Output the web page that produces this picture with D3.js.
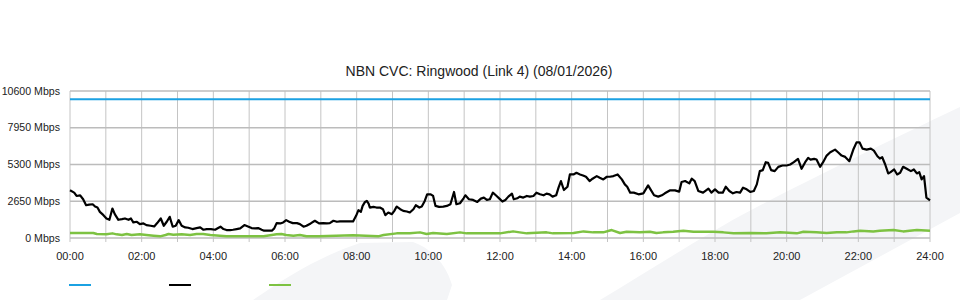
<!DOCTYPE html>
<html>
<head>
<meta charset="utf-8">
<script src="https://cdn.jsdelivr.net/npm/d3@7"></script>
<style>
  body { margin: 0; background: #fff; }
  svg { display: block; font-family: "Liberation Sans", Arial, sans-serif; }
</style>
</head>
<body>
<script>
// chart title
var chartTitle = "NBN CVC: Ringwood (Link 4) (08/01/2026)";

// y axis ticks (Mbps)
var yTicks = [0, 2650, 5300, 7950, 10600];

// link capacity (blue line), Mbps
var capacity = [[0, 10000], [1440, 10000]];

// traffic (black line): [minute of day, Mbps]
var trafficIn = [
  [0,3437],[7,3270],[11,3031],[17,3079],[22,2793],[27,2363],[32,2411],[38,2435],[42,2268],[46,2196],
  [50,1886],[56,1647],[61,1408],[66,1313],[71,2124],[75,1719],[81,1313],[87,1361],[92,1408],[98,1313],
  [102,1408],[106,1122],[112,1170],[117,1003],[123,1050],[128,931],[135,883],[141,835],[146,1074],[152,1408],
  [157,883],[162,1170],[167,1528],[172,812],[177,883],[182,1289],[187,883],[193,764],[198,740],[205,644],
  [212,716],[218,764],[223,597],[229,644],[236,644],[243,597],[248,716],[252,812],[257,644],[262,573],
  [268,573],[273,597],[279,644],[285,692],[292,931],[299,812],[304,716],[310,692],[315,716],[321,597],
  [325,525],[332,525],[338,525],[342,692],[346,1074],[352,1050],[357,1122],[362,1289],[367,1170],[373,1074],
  [380,1074],[385,1003],[391,812],[396,883],[403,1050],[410,1241],[417,1050],[424,1074],[430,1050],[435,1074],
  [441,1241],[447,1170],[452,1194],[458,1194],[463,1194],[469,1194],[474,1194],[479,1599],[483,2005],[487,1886],
  [490,2315],[494,2602],[497,2673],[500,2482],[502,2196],[508,2244],[513,2196],[519,2196],[524,2077],[528,1647],
  [533,1838],[539,1719],[543,1957],[547,2268],[553,2077],[558,1957],[564,1910],[569,1838],[575,2077],[579,2363],
  [585,2196],[589,2268],[594,2673],[598,3151],[604,3151],[608,3031],[612,2315],[618,2244],[625,2268],[631,2315],
  [637,2435],[643,3318],[647,2435],[653,2506],[659,2864],[662,3079],[668,2793],[675,2745],[682,2602],[688,2841],
  [693,2912],[698,2745],[703,2793],[708,3270],[713,3079],[719,2841],[724,2626],[729,2745],[734,2984],[740,3198],
  [743,2793],[749,2864],[753,2984],[759,2912],[765,3031],[770,2984],[776,3031],[781,3270],[787,3151],[793,3079],
  [798,3198],[803,3151],[808,2984],[814,3079],[818,3628],[822,4106],[827,3461],[833,3700],[837,4583],[843,4583],
  [848,4703],[854,4583],[859,4511],[864,4416],[870,4106],[875,4273],[882,4464],[887,4344],[893,4225],[899,4416],
  [904,4416],[910,4464],[917,4583],[924,4225],[929,3867],[933,3700],[938,3270],[944,3270],[952,3151],[960,3222],
  [964,3509],[968,3795],[972,3509],[978,3079],[985,2984],[991,3079],[996,3222],[1005,3437],[1013,3437],[1020,3342],
  [1024,4034],[1030,4106],[1037,3939],[1041,4273],[1046,4106],[1052,3390],[1060,3270],[1069,3557],[1074,3270],[1080,3509],
  [1086,3270],[1093,3270],[1098,3700],[1104,3390],[1110,3222],[1116,3318],[1122,3270],[1127,3628],[1133,3509],[1139,3318],
  [1145,3390],[1150,3867],[1155,4822],[1160,4893],[1165,5466],[1169,5418],[1174,4893],[1180,4822],[1186,5132],[1193,5227],
  [1200,5227],[1206,5299],[1212,5466],[1219,5705],[1225,4989],[1231,5466],[1236,5777],[1240,5657],[1246,5705],[1250,5657],
  [1256,5132],[1261,5466],[1267,5944],[1273,6182],[1281,6373],[1286,6182],[1292,5944],[1298,5848],[1305,5538],[1312,6421],
  [1317,6898],[1322,6898],[1327,6445],[1334,6373],[1341,6445],[1346,6302],[1352,5896],[1356,5729],[1360,5824],[1365,5299],
  [1370,4655],[1374,4750],[1380,4941],[1385,4583],[1390,4703],[1395,5132],[1401,4989],[1408,4822],[1413,4941],[1418,4655],
  [1422,4750],[1426,4225],[1430,4464],[1434,2912],[1440,2721]
];

// traffic (green line): [minute of day, Mbps]
var trafficOut = [
  [0,358],[39,358],[45,287],[61,263],[71,334],[78,263],[87,215],[95,287],[103,215],[117,263],
  [128,215],[140,167],[151,119],[160,215],[165,287],[173,239],[187,263],[201,215],[212,287],[223,287],
  [235,215],[251,167],[262,119],[273,119],[301,119],[324,119],[338,215],[346,263],[354,287],[362,215],
  [374,167],[385,215],[396,119],[417,119],[474,191],[516,119],[525,215],[547,334],[569,334],[586,406],
  [597,287],[608,358],[631,287],[653,406],[664,334],[681,334],[720,334],[742,477],[753,406],[765,334],
  [798,406],[809,334],[843,358],[860,477],[876,406],[893,406],[907,573],[921,358],[932,453],[954,406],
  [971,453],[982,358],[993,406],[1010,453],[1027,525],[1044,453],[1077,453],[1094,406],[1111,334],[1139,358],
  [1166,334],[1189,406],[1217,334],[1228,453],[1250,406],[1267,358],[1284,406],[1300,406],[1312,477],[1323,525],
  [1345,477],[1356,525],[1379,573],[1395,477],[1406,525],[1418,573],[1440,525]
];

var seriesColors = ["#1ba1e2", "#000000", "#7dc242"];

var width = 960, height = 300;
var margin = {top: 91, right: 30, bottom: 62, left: 70};

var svg = d3.select("body")
            .append("svg")
            .attr("width", width)
            .attr("height", height);

// light grey watermark shapes in the background
svg.append("path")
   .attr("d", "M600,300 C650,270 700,238 740,216 C800,184 880,145 960,107 L960,213 L800,300 Z")
   .attr("fill", "#f4f5f7");
svg.append("path")
   .attr("d", "M253,300 C285,278 320,256 360,243 L413,242 C430,248 445,262 452,285 L447,300 Z")
   .attr("fill", "#f4f5f7");

var x = d3.scaleLinear()
          .domain([0, 1440])
          .range([margin.left, width - margin.right]);

var y = d3.scaleLinear()
          .domain([0, 10600])
          .range([height - margin.bottom, margin.top]);

var gridColor = "#c4c4c4";

// vertical grid, one per hour, poking 4px below the axis as ticks
var hours = d3.range(0, 1441, 60);
svg.append("g")
   .selectAll("line")
   .data(hours)
   .enter().append("line")
   .attr("x1", function(d) { return x(d); })
   .attr("x2", function(d) { return x(d); })
   .attr("y1", y(10600))
   .attr("y2", y(0) + 4)
   .attr("stroke", gridColor)
   .attr("stroke-width", 1);

// horizontal grid
svg.append("g")
   .selectAll("line")
   .data(yTicks)
   .enter().append("line")
   .attr("x1", x(0))
   .attr("x2", x(1440))
   .attr("y1", function(d) { return y(d); })
   .attr("y2", function(d) { return y(d); })
   .attr("stroke", "#bcbcbc")
   .attr("stroke-width", 1.3);

// y labels
svg.append("g")
   .selectAll("text")
   .data(yTicks)
   .enter().append("text")
   .attr("x", 60)
   .attr("y", function(d) { return y(d); })
   .attr("dy", "0.35em")
   .attr("text-anchor", "end")
   .attr("font-size", 10.6)
   .attr("fill", "#222")
   .text(function(d) { return d + " Mbps"; });

// x labels every two hours
var labelMinutes = d3.range(0, 1441, 120);
svg.append("g")
   .selectAll("text")
   .data(labelMinutes)
   .enter().append("text")
   .attr("x", function(d) { return x(d); })
   .attr("y", 256)
   .attr("dy", "0.35em")
   .attr("text-anchor", "middle")
   .attr("font-size", 11)
   .attr("fill", "#222")
   .text(function(d) { return d3.format("02")(d / 60) + ":00"; });

// title
svg.append("text")
   .attr("x", 479)
   .attr("y", 76)
   .attr("text-anchor", "middle")
   .attr("font-size", 14)
   .attr("fill", "#222")
   .text(chartTitle);

var line = d3.line()
             .x(function(d) { return x(d[0]); })
             .y(function(d) { return y(d[1]); });

svg.append("path")
   .datum(trafficOut)
   .attr("d", line)
   .attr("fill", "none")
   .attr("stroke", seriesColors[2])
   .attr("stroke-width", 2.5)
   .attr("stroke-linejoin", "round");

svg.append("path")
   .datum(capacity)
   .attr("d", line)
   .attr("fill", "none")
   .attr("stroke", seriesColors[0])
   .attr("stroke-width", 2);

svg.append("path")
   .datum(trafficIn)
   .attr("d", line)
   .attr("fill", "none")
   .attr("stroke", seriesColors[1])
   .attr("stroke-width", 2.2)
   .attr("stroke-linejoin", "round");

// legend swatches (no labels in the original)
svg.append("g")
   .selectAll("line")
   .data(seriesColors)
   .enter().append("line")
   .attr("x1", function(d, i) { return 69 + i * 100; })
   .attr("x2", function(d, i) { return 91 + i * 100; })
   .attr("y1", 285)
   .attr("y2", 285)
   .attr("stroke", function(d) { return d; })
   .attr("stroke-width", 2);
</script>
</body>
</html>
